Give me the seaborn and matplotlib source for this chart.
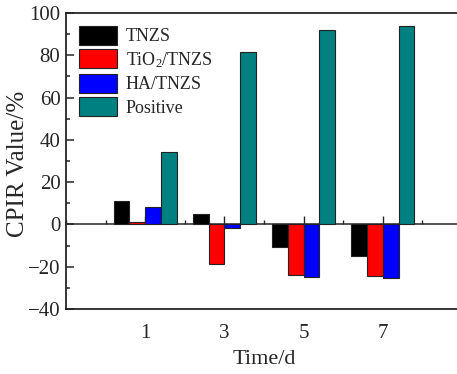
import matplotlib
matplotlib.use("Agg")
import matplotlib.pyplot as plt
from matplotlib.ticker import MultipleLocator, AutoMinorLocator
import numpy as np
import pandas as pd
import seaborn as sns

DAYS = ["1", "3", "5", "7"]
SAMPLES = ["TNZS", "TiO$_2$/TNZS", "HA/TNZS", "Positive"]
TNZS = [11.1, 4.9, -10.8, -15.1]
TIO2_TNZS = [1.0, -18.7, -24.1, -24.5]
HA_TNZS = [8.1, -1.9, -25.0, -25.5]
POSITIVE = [34.2, 81.7, 92.0, 94.0]

PALETTE = ["#000000", "#FF0000", "#0000FF", "#008080"]

sns.set_style("ticks")
plt.rcParams["font.family"] = ["Liberation Serif", "DejaVu Serif"]
plt.rcParams["mathtext.fontset"] = "custom"
plt.rcParams["mathtext.rm"] = "Liberation Serif"
plt.rcParams["mathtext.default"] = "regular"

rows = []
for name, vals in zip(SAMPLES, [TNZS, TIO2_TNZS, HA_TNZS, POSITIVE]):
    for d, v in zip(DAYS, vals):
        rows.append({"day": d, "value": v, "sample": name})
df = pd.DataFrame(rows)

fig = plt.figure(figsize=(4.57, 3.74), dpi=100)
ax = fig.add_axes([66 / 457, 65 / 374, 396 / 457, 296 / 374])

sns.barplot(data=df, x="day", y="value", hue="sample", hue_order=SAMPLES,
            order=DAYS, palette=PALETTE, saturation=1, width=0.8,
            edgecolor="#222222", linewidth=0.8, ax=ax, legend=True, zorder=3)

ax.set_xlim(-1, 4)
ax.set_ylim(-40, 100)
ax.yaxis.set_major_locator(MultipleLocator(20))
ax.yaxis.set_minor_locator(MultipleLocator(10))
ax.tick_params(axis="y", which="major", direction="in", length=6, width=1.1,
               labelsize=15, pad=4)
ax.tick_params(axis="y", which="minor", direction="in", length=3, width=1.1)
ax.tick_params(axis="x", which="both", length=0, labelsize=15, pad=11)
ax.tick_params(top=False, right=False)
for s in ["left", "bottom", "top"]:
    ax.spines[s].set_linewidth(1.3)
ax.spines["right"].set_visible(False)

ax.set_xlabel("Time/d", fontsize=16, labelpad=5)
ax.set_ylabel("CPIR Value/%", fontsize=18)
ax.yaxis.set_label_coords(-0.094, 0.49)

# zero line with ticks, like the origin axis
sec = ax.secondary_xaxis(40 / 140)
sec.set_xticks([0, 1, 2, 3])
sec.xaxis.set_minor_locator(AutoMinorLocator(2))
sec.tick_params(which="major", direction="in", length=6, width=1.0,
                labelbottom=False)
sec.tick_params(which="minor", direction="in", length=3, width=1.0)
sec.spines["bottom"].set_linewidth(1.1)

leg = ax.legend(loc="upper left", frameon=False, fontsize=13,
                handlelength=2.15, handleheight=1.25, handletextpad=0.45,
                labelspacing=0.22, borderaxespad=0.3, title=None)
for h in leg.legend_handles:
    h.set_edgecolor("#222222")

fig.savefig("out.png", dpi=100)
